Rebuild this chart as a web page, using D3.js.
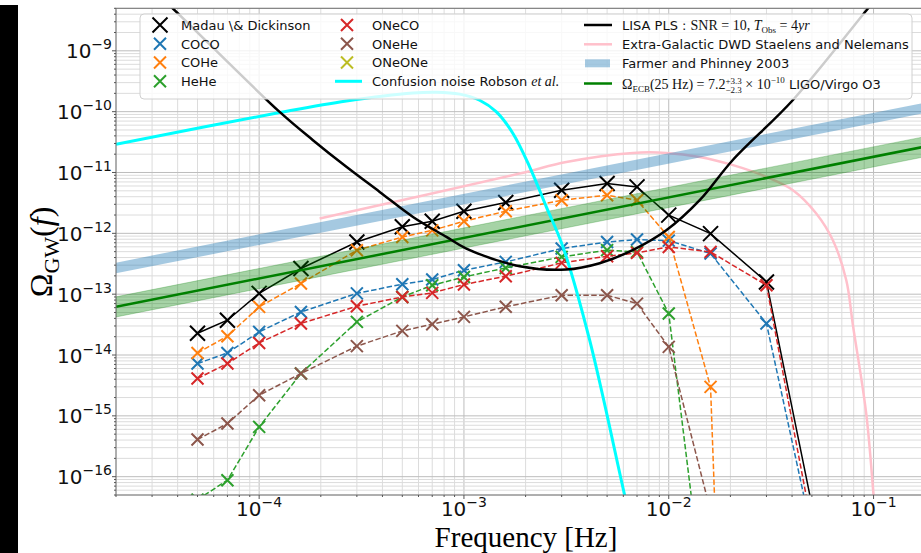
<!DOCTYPE html>
<html>
<head>
<meta charset="utf-8">
<script src="https://cdn.jsdelivr.net/npm/d3@7"></script>
<style>
  body { margin: 0; background: #fff; }
  svg { display: block; }
  text { white-space: pre; }
</style>
</head>
<body>
<svg id="chart" width="921" height="553"></svg>
<script>
'use strict';

/* ---- data ---- */

// frequency grid of the population synthesis points [Hz]
var freqs = [5e-5, 7e-5, 1e-4, 1.6e-4, 3e-4, 5e-4, 7e-4, 1e-3, 1.6e-3, 3e-3, 5e-3, 7e-3, 1e-2, 1.6e-2, 3e-2, 5e-2];

// Omega_GW per channel (0 = nothing left, drops off the log axis)
var madau  = [2.28e-14, 3.73e-14, 1.03e-13, 2.64e-13, 7.2e-13, 1.28e-12, 1.58e-12, 2.31e-12, 3.21e-12, 5.1e-12, 6.6e-12, 5.8e-12, 1.99e-12, 9.9e-13, 1.59e-13, 3.4e-17];
var coco   = [7.24e-15, 1.08e-14, 2.4e-14, 5.1e-14, 1.03e-13, 1.46e-13, 1.74e-13, 2.48e-13, 3.39e-13, 5.63e-13, 7.2e-13, 7.9e-13, 7.6e-13, 4.66e-13, 3.3e-14, 1.2e-17];
var cohe   = [1.08e-14, 2.04e-14, 6.18e-14, 1.5e-13, 5.28e-13, 8.7e-13, 1.12e-12, 1.58e-12, 2.31e-12, 3.5e-12, 4.23e-12, 3.5e-12, 8.7e-13, 2.99e-15, 0, 0];
var hehe   = [4.2e-17, 8.75e-17, 6.58e-16, 4.97e-15, 3.5e-14, 9e-14, 1.4e-13, 1.92e-13, 2.7e-13, 4.1e-13, 5.3e-13, 4.95e-13, 4.8e-14, 1.3e-19, 0, 0];
var oneco  = [4.11e-15, 7.24e-15, 1.58e-14, 3.3e-14, 6.34e-14, 9.0e-14, 1.05e-13, 1.44e-13, 1.97e-13, 3.27e-13, 4.2e-13, 4.77e-13, 5.98e-13, 4.95e-13, 1.4e-13, 1.55e-17];
var onehe  = [4.08e-16, 7.48e-16, 2.18e-15, 4.97e-15, 1.4e-14, 2.49e-14, 3.2e-14, 4.23e-14, 6.2e-14, 9.6e-14, 9.6e-14, 7.0e-14, 1.36e-14, 2.7e-17, 0, 0];
var oneone = [0, 0, 0, 0, 0, 0, 0, 0, 0, 0, 0, 0, 0, 0, 0, 0];

// LISA power-law sensitivity curve
var lisaFreq  = [2.92e-5, 3.78e-5, 1.259e-4, 1.831e-4, 2.666e-4, 3.877e-4, 5.64e-4, 8.21e-4, 1.027e-3, 1.87e-3, 3.16e-3, 4.6e-3, 6.66e-3, 9.73e-3, 1.416e-2, 2.05e-2, 4.03e-2, 9.24e-2, 0.12];
var lisaOmega = [1.12e-8, 5.0e-9, 9.9e-11, 3.4e-11, 1.24e-11, 4.8e-12, 1.86e-12, 8.73e-13, 5.62e-13, 2.88e-13, 2.54e-13, 3.23e-13, 5.28e-13, 1.12e-12, 3.5e-12, 1.59e-11, 1.54e-10, 4.65e-9, 1.35e-8];

// galactic confusion noise (Robson et al.)
var confFreq  = [2e-5, 1.259e-4, 2.666e-4, 5.64e-4, 7.33e-4, 9.53e-4, 1.193e-3, 1.44e-3, 1.735e-3, 2.093e-3, 2.525e-3, 3.044e-3, 4.11e-3, 6.09e-3, 7.2e-3];
var confOmega = [2.92e-11, 9.68e-11, 1.5e-10, 2.03e-10, 2.09e-10, 1.94e-10, 1.54e-10, 9.9e-11, 4.38e-11, 1.24e-11, 2.72e-12, 5.98e-13, 1.75e-14, 4.97e-17, 4.3e-18];

// extra-galactic DWD, Staelens and Nelemans
var egFreq  = [1.974e-4, 1.87e-3, 3.16e-3, 6.69e-3, 9.73e-3, 1.416e-2, 2.06e-2, 3.0e-2, 4.04e-2, 5.25e-2, 6.33e-2, 7.36e-2, 7.93e-2, 9.21e-2, 0.1, 0.104];
var egOmega = [1.75e-12, 9.6e-12, 1.49e-11, 2.1e-11, 2.1e-11, 1.8e-11, 1.32e-11, 8.46e-12, 5.12e-12, 2.12e-12, 7.7e-13, 1.69e-13, 3.09e-14, 1.09e-15, 5e-17, 1e-17];

// Farmer and Phinney 2003 band
var fpFreq  = [2e-5, 0.2];
var fpLow   = [2.2e-13, 1.03e-10];
var fpHigh  = [3.3e-13, 1.52e-10];

// LIGO/Virgo O3 bound extrapolated down, with its band
var ligoFreq  = [2e-5, 0.2];
var ligoOmega = [6.2e-14, 2.88e-11];
var ligoLow   = [4.22e-14, 1.96e-11];
var ligoHigh  = [9.04e-14, 4.2e-11];

// axis ticks
var xTicks = [1e-4, 1e-3, 1e-2, 1e-1];
var xTickExp = ['−4', '−3', '−2', '−1'];
var yTicks = [1e-16, 1e-15, 1e-14, 1e-13, 1e-12, 1e-11, 1e-10, 1e-9];
var yTickExp = ['−16', '−15', '−14', '−13', '−12', '−11', '−10', '−9'];

/* ---- setup ---- */

var sans = "'DejaVu Sans', sans-serif";
var serif = "'Liberation Serif', 'DejaVu Serif', serif";

var svg = d3.select('#chart');
var pL = 116, pR = 935.2, pT = 8.3, pB = 495;

var x = d3.scaleLog().domain([2e-5, 0.2]).range([pL, pR]);
var y = d3.scaleLog().domain([5e-17, 5e-9]).range([pB, pT]);

// zero can't go on a log axis - push it far below
function yy(v) { return y(v > 0 ? v : 1e-40); }

// black strip on the left of the cropped figure
svg.append('rect').attr('x', 0).attr('y', 5).attr('width', 18).attr('height', 548).attr('fill', '#000');

svg.append('defs').append('clipPath').attr('id', 'plotclip')
  .append('rect').attr('x', pL).attr('y', pT).attr('width', pR - pL).attr('height', pB - pT);

//grid
var grid = svg.append('g');
var xGrid = [], yGrid = [];
for (var e = -5; e <= -1; e++) {
  for (var k = 1; k <= 9; k++) {
    var v = k * Math.pow(10, e);
    if (v >= 2e-5 && v <= 0.2) xGrid.push({v: v, major: k === 1});
  }
}
for (var e2 = -17; e2 <= -9; e2++) {
  for (var k2 = 1; k2 <= 9; k2++) {
    var v2 = k2 * Math.pow(10, e2);
    if (v2 >= 5e-17 && v2 <= 5e-9) yGrid.push({v: v2, major: k2 === 1});
  }
}
grid.selectAll('line.gx').data(xGrid).enter().append('line')
  .attr('x1', function (d) { return x(d.v); }).attr('x2', function (d) { return x(d.v); })
  .attr('y1', pT).attr('y2', pB)
  .attr('stroke', function (d) { return d.major ? '#bdbdbd' : '#dcdcdc'; })
  .attr('stroke-width', 1);
grid.selectAll('line.gy').data(yGrid).enter().append('line')
  .attr('y1', function (d) { return y(d.v); }).attr('y2', function (d) { return y(d.v); })
  .attr('x1', pL).attr('x2', pR)
  .attr('stroke', function (d) { return d.major ? '#bdbdbd' : '#dcdcdc'; })
  .attr('stroke-width', 1);

var plot = svg.append('g').attr('clip-path', 'url(#plotclip)');

var pairLine = d3.line()
  .x(function (d) { return x(d[0]); })
  .y(function (d) { return yy(d[1]); });
var smoothLine = d3.line()
  .x(function (d) { return x(d[0]); })
  .y(function (d) { return yy(d[1]); })
  .curve(d3.curveCatmullRom.alpha(0.5));

function zip(a, b) { return a.map(function (v, i) { return [v, b[i]]; }); }

// extra-galactic DWD
plot.append('path').datum(zip(egFreq, egOmega))
  .attr('d', smoothLine).attr('fill', 'none').attr('stroke', 'pink').attr('stroke-width', 2.5);

/* population synthesis channels */
var series = [
  {name: 'Madau \\& Dickinson', vals: madau, color: '#000000', dash: null, size: 7.5},
  {name: 'COCO', vals: coco, color: '#1f77b4', dash: '5.5,2.4', size: 6},
  {name: 'COHe', vals: cohe, color: '#ff7f0e', dash: '5.5,2.4', size: 6},
  {name: 'HeHe', vals: hehe, color: '#2ca02c', dash: '5.5,2.4', size: 6},
  {name: 'ONeCO', vals: oneco, color: '#d62728', dash: '5.5,2.4', size: 6},
  {name: 'ONeHe', vals: onehe, color: '#8c564b', dash: '5.5,2.4', size: 6},
  {name: 'ONeONe', vals: oneone, color: '#bcbd22', dash: '5.5,2.4', size: 6}
];

function xMark(s) { return 'M' + (-s) + ',' + (-s) + 'L' + s + ',' + s + 'M' + (-s) + ',' + s + 'L' + s + ',' + (-s); }

series.forEach(function (s) {
  var pts = zip(freqs, s.vals);
  var g = plot.append('g');
  g.append('path').datum(pts).attr('d', pairLine)
    .attr('fill', 'none').attr('stroke', s.color).attr('stroke-width', 1.5)
    .attr('stroke-dasharray', s.dash);
  g.selectAll('path.m').data(pts.filter(function (d) { return d[1] > 0; })).enter().append('path')
    .attr('class', 'm')
    .attr('transform', function (d) { return 'translate(' + x(d[0]) + ',' + yy(d[1]) + ')'; })
    .attr('d', xMark(s.size))
    .attr('stroke', s.color).attr('stroke-width', 2).attr('fill', 'none');
});

// Farmer & Phinney band
var band = d3.area()
  .x(function (d) { return x(d[0]); })
  .y0(function (d) { return y(d[1]); })
  .y1(function (d) { return y(d[2]); });
plot.append('path').datum(fpFreq.map(function (f, i) { return [f, fpLow[i], fpHigh[i]]; }))
  .attr('d', band).attr('fill', '#1f77b4').attr('fill-opacity', 0.4);

// LIGO/Virgo band + line
plot.append('path').datum(ligoFreq.map(function (f, i) { return [f, ligoLow[i], ligoHigh[i]]; }))
  .attr('d', band).attr('fill', '#008000').attr('fill-opacity', 0.35)
  .attr('stroke', '#008000').attr('stroke-opacity', 0.25);
plot.append('path').datum(zip(ligoFreq, ligoOmega))
  .attr('d', pairLine).attr('fill', 'none').attr('stroke', '#008000').attr('stroke-width', 2.5);

// confusion noise
plot.append('path').datum(zip(confFreq, confOmega))
  .attr('d', smoothLine).attr('fill', 'none').attr('stroke', '#00ffff').attr('stroke-width', 3);

// LISA PLS
plot.append('path').datum(zip(lisaFreq, lisaOmega))
  .attr('d', smoothLine).attr('fill', 'none').attr('stroke', '#000').attr('stroke-width', 2.5);

/* ---- axes ---- */
var ax = svg.append('g');
ax.append('rect').attr('x', pL).attr('y', pT).attr('width', pR - pL).attr('height', pB - pT)
  .attr('fill', 'none').attr('stroke', '#707070').attr('stroke-width', 1);

// tick marks
ax.selectAll('line.tx').data(xGrid).enter().append('line')
  .attr('x1', function (d) { return x(d.v); }).attr('x2', function (d) { return x(d.v); })
  .attr('y1', pB).attr('y2', function (d) { return pB + (d.major ? 4 : 2); })
  .attr('stroke', '#555');
ax.selectAll('line.ty').data(yGrid).enter().append('line')
  .attr('y1', function (d) { return y(d.v); }).attr('y2', function (d) { return y(d.v); })
  .attr('x1', pL).attr('x2', function (d) { return pL - (d.major ? 4 : 2); })
  .attr('stroke', '#555');

xTicks.forEach(function (t, i) {
  var tx = ax.append('text').attr('x', x(t)).attr('y', 516)
    .attr('text-anchor', 'middle').attr('font-family', sans).attr('font-size', 20).attr('fill', '#111');
  tx.append('tspan').text('10');
  tx.append('tspan').attr('dy', -9).attr('font-size', 14).text(xTickExp[i]);
});
yTicks.forEach(function (t, i) {
  var ty = ax.append('text').attr('x', 112).attr('y', y(t) + 7.5)
    .attr('text-anchor', 'end').attr('font-family', sans).attr('font-size', 20).attr('fill', '#111');
  ty.append('tspan').text('10');
  ty.append('tspan').attr('dy', -9).attr('font-size', 14).text(yTickExp[i]);
});

// axis titles
ax.append('text').attr('x', 526).attr('y', 547).attr('text-anchor', 'middle')
  .attr('font-family', serif).attr('font-size', 29).text('Frequency [Hz]');
var yl = ax.append('text').attr('transform', 'translate(52,252) rotate(-90)')
  .attr('text-anchor', 'middle').attr('font-family', serif).attr('font-size', 32);
yl.append('tspan').text('Ω');
yl.append('tspan').attr('dy', 7).attr('font-size', 22).text('GW');
yl.append('tspan').attr('dy', -7).text('(');
yl.append('tspan').attr('font-style', 'italic').text('f');
yl.append('tspan').text(')');

/* ---- legend ---- */
var lg = svg.append('g');
lg.append('rect').attr('x', 140).attr('y', 14).attr('width', 772).attr('height', 85).attr('rx', 4)
  .attr('fill', '#fff').attr('fill-opacity', 0.8).attr('stroke', '#d0d0d0');

// place pieces of mixed-font text one after the other
function richText(g, x0, y0, parts) {
  var cx = x0, w = 0;
  parts.forEach(function (p) {
    var t = g.append('text').attr('x', cx).attr('y', y0 + (p.dy || 0))
      .attr('font-family', p.serif ? serif : sans)
      .attr('font-size', p.size || 13)
      .attr('font-style', p.it ? 'italic' : null)
      .attr('fill', '#111')
      .text(p.t);
    w = Math.max(w, t.node().getComputedTextLength());
    if (!p.stay) { cx += w; w = 0; }
  });
}

var rowY = [25, 43.8, 62.5, 81.3];
var col1 = series.slice(0, 4), col2 = series.slice(4);
col1.forEach(function (s, i) {
  lg.append('path').attr('transform', 'translate(160,' + rowY[i] + ')').attr('d', xMark(s.size))
    .attr('stroke', s.color).attr('stroke-width', 2).attr('fill', 'none');
  richText(lg, 181, rowY[i] + 4.7, [{t: s.name}]);
});
col2.forEach(function (s, i) {
  lg.append('path').attr('transform', 'translate(347,' + rowY[i] + ')').attr('d', xMark(s.size))
    .attr('stroke', s.color).attr('stroke-width', 2).attr('fill', 'none');
  richText(lg, 372, rowY[i] + 4.7, [{t: s.name}]);
});
lg.append('line').attr('x1', 335).attr('x2', 362).attr('y1', rowY[3]).attr('y2', rowY[3])
  .attr('stroke', '#00ffff').attr('stroke-width', 3);
richText(lg, 372, rowY[3] + 4.7, [{t: 'Confusion noise Robson '}, {t: 'et al.', serif: true, it: true, size: 14}]);

// third column
var r3 = [25, 44.3, 63.3, 84.5];
lg.append('line').attr('x1', 584).attr('x2', 612).attr('y1', r3[0]).attr('y2', r3[0])
  .attr('stroke', '#000').attr('stroke-width', 2.5);
richText(lg, 622, r3[0] + 4.7, [
  {t: 'LISA PLS : '}, {t: 'SNR = 10, ', serif: true, size: 14},
  {t: 'T', serif: true, it: true, size: 14}, {t: 'Obs', serif: true, size: 9, dy: 3},
  {t: ' = 4', serif: true, size: 14}, {t: 'yr', serif: true, it: true, size: 14}
]);
lg.append('line').attr('x1', 584).attr('x2', 612).attr('y1', r3[1]).attr('y2', r3[1])
  .attr('stroke', 'pink').attr('stroke-width', 2.5);
richText(lg, 622, r3[1] + 4.7, [{t: 'Extra-Galactic DWD Staelens and Nelemans'}]);
lg.append('rect').attr('x', 585).attr('y', r3[2] - 4).attr('width', 25).attr('height', 8)
  .attr('fill', '#1f77b4').attr('fill-opacity', 0.4);
richText(lg, 622, r3[2] + 4.7, [{t: 'Farmer and Phinney 2003'}]);
lg.append('line').attr('x1', 584).attr('x2', 612).attr('y1', r3[3] - 1).attr('y2', r3[3] - 1)
  .attr('stroke', '#008000').attr('stroke-width', 2.5);
richText(lg, 622, r3[3] + 4.7, [
  {t: 'Ω', serif: true, size: 14}, {t: 'ECB', serif: true, size: 9, dy: 3},
  {t: '(25 Hz) = 7.2', serif: true, size: 14},
  {t: '+3.3', serif: true, size: 9, dy: -5, stay: true}, {t: '−2.3', serif: true, size: 9, dy: 4},
  {t: ' × 10', serif: true, size: 14}, {t: '−10', serif: true, size: 9, dy: -6},
  {t: ' LIGO/Virgo O3'}
]);
</script>
</body>
</html>
